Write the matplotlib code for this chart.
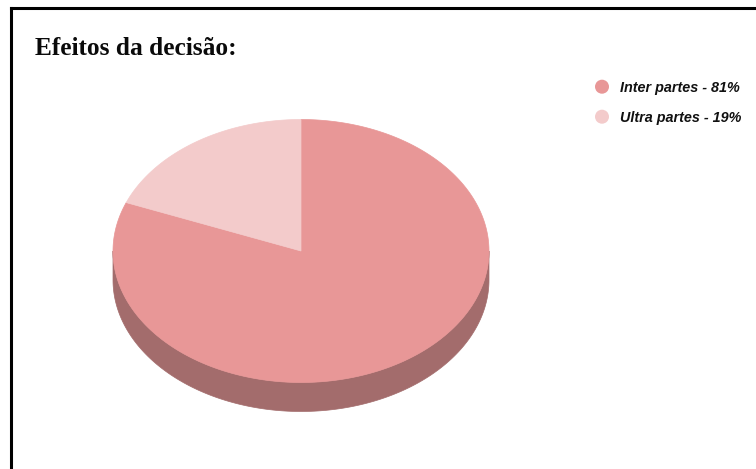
import numpy as np
import matplotlib
matplotlib.use("Agg")
import matplotlib.pyplot as plt
from matplotlib.patches import Polygon, Ellipse
from matplotlib.lines import Line2D

# Data
categories = ["Inter partes", "Ultra partes"]
values = [81, 19]
top_colors = ["#E89797", "#F3CBCB"]
side_colors = ["#A36C6C", "#B39494"]
legend_labels = [f"{c} - {v}%" for c, v in zip(categories, values)]

W, H = 756, 469
fig = plt.figure(figsize=(W / 100, H / 100), dpi=100)
ax = fig.add_axes([0, 0, 1, 1])
ax.set_xlim(0, W)
ax.set_ylim(H, 0)
ax.axis("off")

# Frame lines (left and top)
ax.add_line(Line2D([11, 11], [8.5, H], color="black", lw=2.2))
ax.add_line(Line2D([11, W], [8.5, 8.5], color="black", lw=2.2))

# Title
ax.text(35, 55, "Efeitos da decisão:", fontsize=18.3, fontweight="bold",
        family="Liberation Serif", ha="left", va="baseline", color="#0a0a0a")

# 3D pie geometry (pixel units)
cx, cy = 301, 251
a, b = 188, 131.5
depth = 29


def rim(theta, dy=0.0):
    return np.column_stack([cx + a * np.sin(theta), cy - b * np.cos(theta) + dy])


fractions = np.array(values, dtype=float) / sum(values)
bounds = np.concatenate([[0], np.cumsum(fractions)]) * 2 * np.pi

# Side walls: only the front half of the rim is visible
for i in range(len(values)):
    t0 = max(bounds[i], np.pi / 2)
    t1 = min(bounds[i + 1], 3 * np.pi / 2)
    if t1 <= t0:
        continue
    th = np.linspace(t0, t1, 200)
    pts = np.vstack([rim(th), rim(th[::-1], depth)])
    ax.add_patch(Polygon(pts, closed=True, facecolor=side_colors[i],
                         edgecolor=side_colors[i], lw=0.5))

# Top faces
for i in range(len(values)):
    th = np.linspace(bounds[i], bounds[i + 1], 400)
    pts = np.vstack([[cx, cy], rim(th)])
    ax.add_patch(Polygon(pts, closed=True, facecolor=top_colors[i],
                         edgecolor=top_colors[i], lw=0.5))

# Legend
for i, lab in enumerate(legend_labels):
    y = 86.7 + 30 * i
    ax.add_patch(Ellipse((602, y), 14, 14, facecolor=top_colors[i], edgecolor="none"))
    ax.text(620.5, y + 5, lab, fontsize=10.4, fontweight="bold", fontstyle="italic",
            family="Liberation Sans", ha="left", va="baseline", color="#111111")

fig.savefig("out.png", dpi=100, facecolor="white")
